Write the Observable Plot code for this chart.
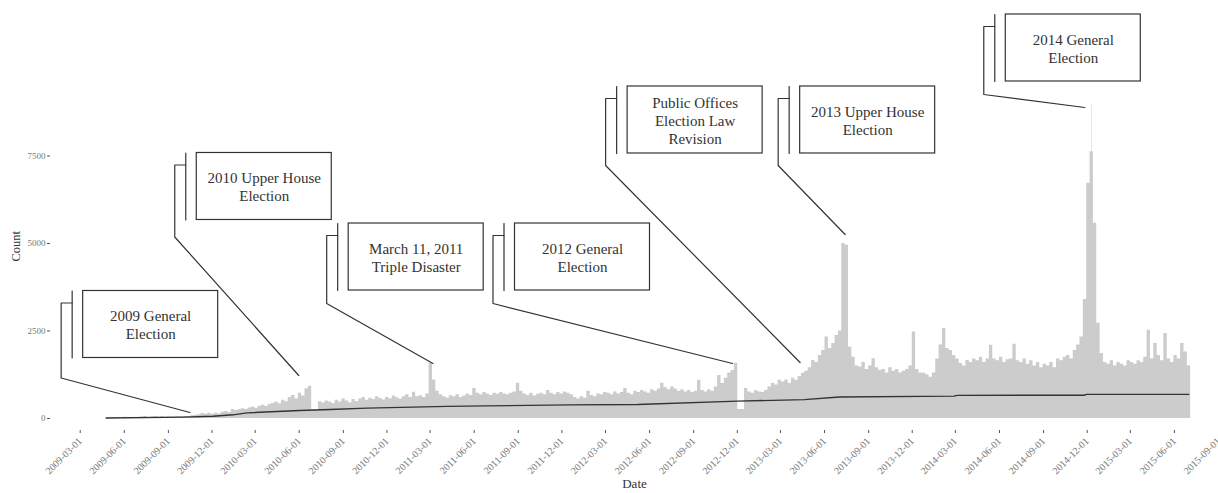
<!DOCTYPE html>
<html><head><meta charset="utf-8">
<script src="https://cdn.jsdelivr.net/npm/d3@7"></script>
<script src="https://cdn.jsdelivr.net/npm/@observablehq/plot@0.6"></script>
<style>
body{margin:0;background:#fff;}
</style>
</head><body><div id="chart"></div>
<script>
// ---- data ----
const weekStart = "2009-04-26";   // first weekly bin
const weekDays = 7;
const weeklyCounts = [
  5, 8, 10, 12, 15, 35, 20, 18, 22, 25,
  40, 55, 30, 45, 60, 35, 50, 30, 40, 35, 45, 50, 40, 55, 60,
  80, 90, 110, 140, 120, 150,
  120, 150, 130, 180, 200, 170, 260, 230, 250, 280,
  260, 300, 330, 290, 350, 380, 340, 400, 430, 470,
  420, 520, 480, 600, 660, 560, 720, 640, 850, 920,
  240, 230, 480, 440, 500, 470,
  430, 520, 470, 560, 500, 450, 540, 480, 560, 600,
  520, 580, 540, 620, 570, 530, 600, 560, 640, 590,
  550, 620, 680, 600, 750, 620, 650, 600, 700,
  1570, 1100, 780, 680, 620, 580, 650, 620, 680, 600,
  640, 700, 660, 860, 720, 680, 740, 700, 660, 720,
  690, 740, 700, 680, 720, 760, 1010, 780, 700, 660,
  720, 640, 690, 720, 680, 800, 720, 680, 740, 700,
  760, 720, 680, 600, 560, 620, 580, 780, 660, 620,
  700, 680, 740, 720, 680, 760, 700, 740, 860, 720,
  680, 780, 740, 800, 760, 720, 820, 780, 840, 1010,
  880, 820, 900, 840, 780, 820, 760, 800, 740, 780,
  1090, 800, 760, 820, 780, 900, 1230, 1000, 1150, 1300,
  1370, 1580, 260, 260, 860, 760, 720, 800, 760, 740,
  800, 900, 1000, 960, 1090, 1040, 1100, 1000, 1150, 1090,
  1200, 1290, 1350, 1450, 1660, 1600, 1800, 1940, 2330, 2000,
  2140, 2370, 2500, 5000, 4950, 2040, 1750, 1500, 1470, 1600,
  1400, 1500, 1710, 1450, 1370, 1400, 1300, 1450, 1350, 1400,
  1300, 1350, 1400, 1500, 2470, 1400, 1300, 1290, 1250, 1180,
  1300, 1700, 2100, 2570, 2000, 1940, 1800, 1700, 1570, 1500,
  1660, 1600, 1700, 1650, 1750, 1600, 1700, 2090, 1700, 1650,
  1750, 1600, 1680, 1700, 2120, 1650, 1600, 1700, 1550, 1650,
  1500, 1600, 1450, 1550, 1500, 1600, 1450, 1700, 1650, 1750,
  1800, 1700, 1940, 2100, 2330, 3400, 6720, 7620, 5580, 2720,
  1860, 1600, 1550, 1650, 1500, 1600, 1550, 1500, 1650, 1600,
  1550, 1650, 1600, 1750, 2520, 1700, 2140, 1800, 1650, 2430,
  1700, 1600, 1800, 1700, 2140, 1900, 1510
];
const peakDays = ["2014-12-10"];
const peakValues = [8950];

const trendDates = ["2009-04-24","2009-10-02","2009-12-03","2010-01-14","2010-02-12","2010-06-02",
  "2010-08-04","2010-10-20","2011-01-24","2011-04-05","2011-06-27","2011-12-17","2012-05-07",
  "2012-12-01","2013-04-20","2013-07-02","2014-02-26","2014-03-05","2014-11-24","2014-11-30","2015-07-01"];
const trendValues = [15, 40, 65, 105, 160, 230, 255, 295, 325, 345, 360, 390, 400, 495, 540, 615, 640, 660, 665, 690, 690];

const xTickLabels = ["2009-03-01","2009-06-01","2009-09-01","2009-12-01","2010-03-01","2010-06-01",
  "2010-09-01","2010-12-01","2011-03-01","2011-06-01","2011-09-01","2011-12-01","2012-03-01",
  "2012-06-01","2012-09-01","2012-12-01","2013-03-01","2013-06-01","2013-09-01","2013-12-01",
  "2014-03-01","2014-06-01","2014-09-01","2014-12-01","2015-03-01","2015-06-01","2015-09-01"];
const yTickValues = [0, 2500, 5000, 7500];

const annLabels = ["2009 General\nElection","2010 Upper House\nElection","March 11, 2011\nTriple Disaster",
  "2012 General\nElection","Public Offices\nElection Law\nRevision","2013 Upper House\nElection","2014 General\nElection"];
const annBoxDates = ["2009-07-26","2010-03-20","2011-01-31","2012-01-13","2012-09-04","2013-08-30","2014-11-02"];
const annBoxValues = [2686, 6629, 4614, 4614, 8529, 8529, 10586];
const annTargetDates = ["2009-10-16","2010-05-31","2011-03-07","2012-11-21","2013-04-11","2013-07-14","2014-11-26"];
const annTargetValues = [171, 1229, 1571, 1571, 1600, 5257, 8886];
const annElbowDrop = [20, 17, 13, 13, 12, 12, 13]; // px below the box where the leader bends

// ---- layout ----
const W = 1218, H = 493, mL = 50, mR = 0, mT = 0, mB = 63;
const xDomain = [new Date("2008-12-29"), new Date("2015-09-01")];
const yDomain = [-343, 11943];
const font = "'Liberation Serif', 'DejaVu Serif', serif";

const xs = Plot.scale({x: {type: "utc", domain: xDomain, range: [mL, W - mR]}});
const ys = Plot.scale({y: {type: "linear", domain: yDomain, range: [H - mB, mT]}});

const start = new Date(weekStart);
const area = weeklyCounts.map((v, i) => ({date: d3.utcDay.offset(start, i * weekDays), value: v}));
area.push({date: d3.utcDay.offset(start, weeklyCounts.length * weekDays), value: weeklyCounts[weeklyCounts.length - 1]});
const peaks = peakDays.map((d, i) => ({x1: new Date(d), x2: d3.utcDay.offset(new Date(d), 1), value: peakValues[i]}));
const trend = trendDates.map((d, i) => ({date: new Date(d), value: trendValues[i]}));

// annotation geometry (box 135x67 px, bracket offsets in px, converted through the scales)
const BW = 135, BH = 67;
const toData = (px, py) => ({x: xs.invert(px), y: ys.invert(py)});
const boxes = [], segs = [], texts = [];
annLabels.forEach((lab, k) => {
  const cx = xs.apply(new Date(annBoxDates[k])), cy = ys.apply(annBoxValues[k]);
  const l = cx - BW / 2, r = cx + BW / 2, t = cy - BH / 2, b = cy + BH / 2;
  const a = toData(l, t), c = toData(r, b);
  boxes.push({x1: a.x, x2: c.x, y1: c.y, y2: a.y});
  texts.push({x: new Date(annBoxDates[k]), y: annBoxValues[k], text: lab});
  [[l - 11, t], [l - 11, b]].forEach(p => segs.push({...toData(...p), id: "bar" + k}));
  const tx = xs.apply(new Date(annTargetDates[k])), ty = ys.apply(annTargetValues[k]);
  [[l - 11, t + 12], [l - 22, t + 12], [l - 22, b + annElbowDrop[k]], [tx, ty]].forEach(p => segs.push({...toData(...p), id: "elb" + k}));
});

const chart = Plot.plot({
  width: W, height: H,
  marginLeft: mL, marginRight: mR, marginTop: mT, marginBottom: mB,
  style: {fontFamily: font, background: "#fff", overflow: "visible"},
  x: {type: "utc", domain: xDomain},
  y: {domain: yDomain},
  marks: [
    Plot.areaY(area, {x: "date", y: "value", curve: "step-after", fill: "#cccccc"}),
    Plot.rectY(peaks, {x1: "x1", x2: "x2", y: "value", fill: "#cccccc"}),
    Plot.line(trend, {x: "date", y: "value", stroke: "#333", strokeWidth: 1.4}),
    Plot.line(segs, {x: "x", y: "y", z: "id", stroke: "#333", strokeWidth: 1.2}),
    Plot.rect(boxes, {x1: "x1", x2: "x2", y1: "y1", y2: "y2", fill: "white", stroke: "#333", strokeWidth: 1.2}),
    Plot.text(texts, {x: "x", y: "y", text: "text", fontSize: 15, lineHeight: 1.2, fill: "#333"}),
    Plot.axisX({ticks: xTickLabels.map(d => new Date(d)), tickFormat: d3.utcFormat("%Y-%m-%d"),
      tickRotate: -45, tickSize: 3, tickPadding: 6, fontSize: 10, label: null, stroke: "#555", fill: "#777"}),
    Plot.axisY({ticks: yTickValues, tickFormat: d3.format("d"), tickSize: 3, tickPadding: 2, fontSize: 9,
      label: null, stroke: "#555", fill: "#777"}),
    Plot.text(["Count"], {frameAnchor: "left", dx: -35, dy: 46, rotate: -90, fontSize: 12.5, fill: "#333"}),
    Plot.text(["Date"], {frameAnchor: "bottom", dy: 57, fontSize: 13, fill: "#333"})
  ]
});
document.getElementById("chart").appendChild(chart);
</script>
</body></html>
